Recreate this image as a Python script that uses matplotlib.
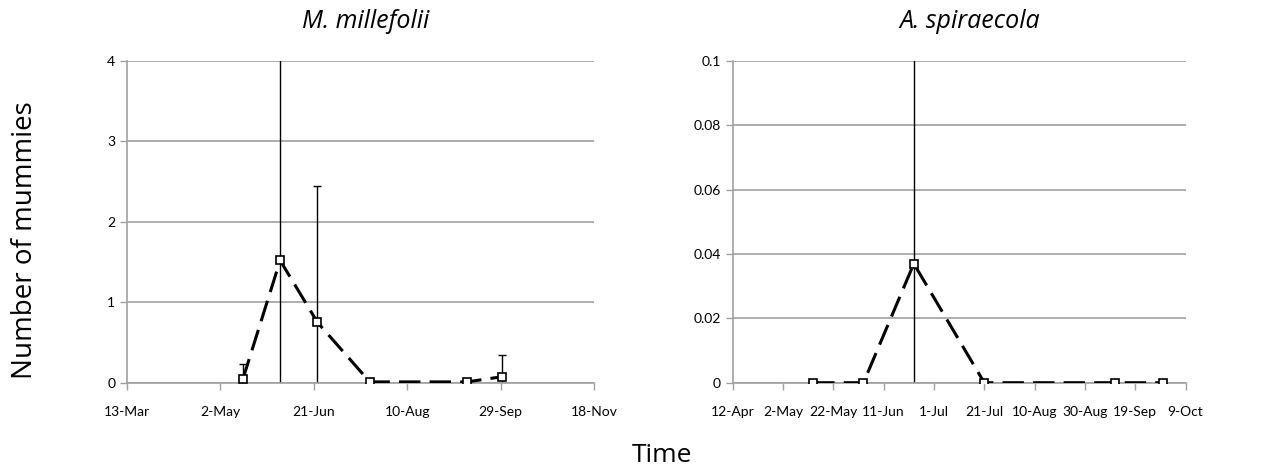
import numpy as np
import matplotlib.pyplot as plt
import matplotlib.dates as mdates

plt.rcParams['font.family'] = ['Lato', 'DejaVu Sans']

# sampling dates shared by both species
dates = np.array(['2013-05-14', '2013-06-03', '2013-06-23', '2013-07-21',
                  '2013-09-11', '2013-09-30'], dtype='datetime64[D]')

mill_mean = [0.04, 1.52, 0.75, 0.01, 0.01, 0.075]
mill_err = [0.19, 2.9, 1.69, 0.0, 0.0, 0.27]

spir_mean = [0.0, 0.0, 0.037, 0.0, 0.0, 0.0]
spir_err = [0.0, 0.0, 0.08, 0.0, 0.0, 0.0]

mill_ticks = np.arange(np.datetime64('2013-03-13'), np.datetime64('2013-11-19'), 50)
spir_ticks = np.arange(np.datetime64('2013-04-12'), np.datetime64('2013-10-10'), 20)

grid_col = '#a0a0a0'

fig = plt.figure(figsize=(12.61, 4.74), dpi=100)
ax1 = fig.add_axes([0.1007, 0.1926, 0.3703, 0.6787])
ax2 = fig.add_axes([0.581, 0.1926, 0.3592, 0.6787])


def draw(ax, mean, err, ticks, ymax, ystep, fmt):
    x = mdates.date2num(dates)
    ax.errorbar(x, mean, yerr=err, fmt='none', ecolor='black', elinewidth=1,
                capsize=3, capthick=1, zorder=2)
    ax.plot(x, mean, color='black', lw=2.2, ls=(0, (7, 3)), marker='s',
            ms=5.5, mfc='white', mec='black', mew=1.2, zorder=3)
    ax.set_xlim(mdates.date2num(ticks[0]), mdates.date2num(ticks[-1]))
    ax.set_ylim(0, ymax)
    ax.set_xticks(mdates.date2num(ticks))
    ax.set_xticklabels([str(int(str(t)[8:])) + '-' + t.astype(object).strftime('%b')
                        for t in ticks])
    ax.set_yticks(np.arange(0, ymax + ystep / 2, ystep))
    ax.yaxis.set_major_formatter(plt.FuncFormatter(fmt))
    ax.yaxis.grid(True, color=grid_col, lw=1.2)
    ax.set_axisbelow(True)
    for s in ('top', 'right'):
        ax.spines[s].set_visible(False)
    for s in ('left', 'bottom'):
        ax.spines[s].set_color(grid_col)
        ax.spines[s].set_linewidth(1.2)
    ax.tick_params(axis='both', colors=grid_col, labelcolor='black',
                   labelsize=10, length=5, width=1)
    ax.tick_params(axis='x', pad=12)


draw(ax1, mill_mean, mill_err, mill_ticks, 4, 1, lambda v, p: '%d' % v)
draw(ax2, spir_mean, spir_err, spir_ticks, 0.1, 0.02,
     lambda v, p: '0' if v == 0 else ('%.2f' % v).rstrip('0'))

fig.text(0.29, 0.955, 'M. millefolii', ha='center', va='center', fontsize=18,
         style='italic', family='Open Sans')
fig.text(0.769, 0.955, 'A. spiraecola', ha='center', va='center', fontsize=18,
         style='italic', family='Open Sans')

fig.text(0.02, 0.494, 'Number of mummies', rotation=90, ha='center',
         va='center', fontsize=20, family='Open Sans')
fig.text(0.525, 0.04, 'Time', ha='center', va='center', fontsize=19,
         family='Open Sans')

fig.savefig('out.png', dpi=100)
